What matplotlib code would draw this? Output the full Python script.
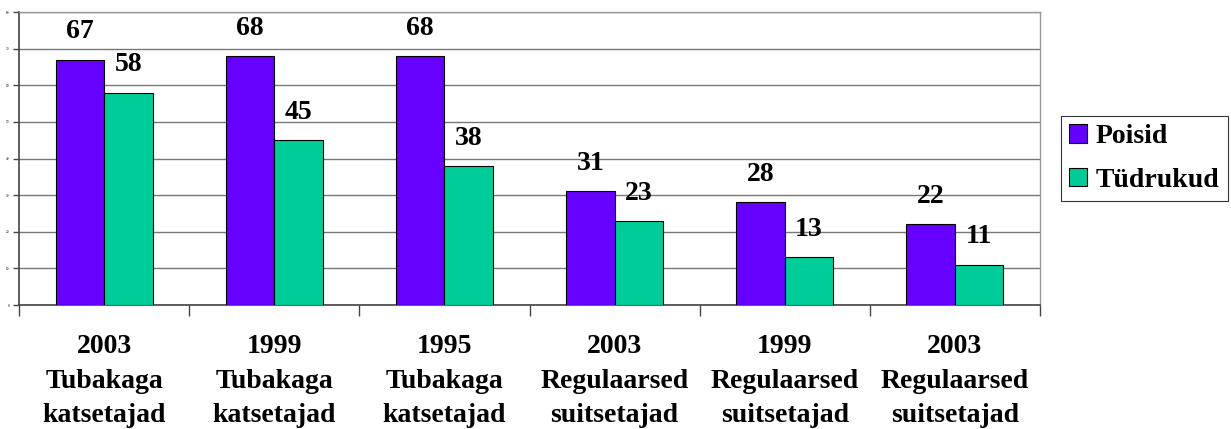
import numpy as np
import matplotlib
matplotlib.use("Agg")
import matplotlib.pyplot as plt

# andmed
kategooriad = ["2003\nTubakaga\nkatsetajad", "1999\nTubakaga\nkatsetajad",
               "1995\nTubakaga\nkatsetajad", "2003\nRegulaarsed\nsuitsetajad",
               "1999\nRegulaarsed\nsuitsetajad", "2003\nRegulaarsed\nsuitsetajad"]
poisid = [67, 68, 68, 31, 28, 22]
tudrukud = [58, 45, 38, 23, 13, 11]
y_ticks = [0, 10, 20, 30, 40, 50, 60, 70, 80]

plt.rcParams['font.family'] = ['Liberation Serif', 'DejaVu Serif']

fig = plt.figure(figsize=(12.31, 4.29), dpi=100)
ax = fig.add_axes([0.0154, 0.289, 0.8295, 0.683])

x = np.arange(len(kategooriad))
w = 0.285
b1 = ax.bar(x - w / 2, poisid, w, color="#6600FF", edgecolor="black", linewidth=0.8, label="Poisid", zorder=3)
b2 = ax.bar(x + w / 2, tudrukud, w, color="#00CC99", edgecolor="black", linewidth=0.8, label="Tüdrukud", zorder=3)

for bars, vals in [(b1, poisid), (b2, tudrukud)]:
    for r, v in zip(bars, vals):
        ax.annotate(str(v), (r.get_x() + r.get_width() / 2, v), xytext=(0, 20),
                    textcoords="offset points", ha="center", va="center",
                    fontsize=20, fontweight="bold")

ax.set_xlim(-0.5, len(kategooriad) - 0.5)
ax.set_ylim(0, 80)
ax.set_yticks(y_ticks)
ax.set_yticklabels([str(t) for t in y_ticks], fontsize=2.5)
ax.yaxis.grid(True, color="#777777", linewidth=1, zorder=0)
ax.tick_params(axis="y", direction="out", length=4, width=1, color="#444444", pad=3)

# kategooriate piirid
ax.set_xticks(np.arange(-0.5, len(kategooriad)), minor=False)
ax.set_xticklabels([])
ax.tick_params(axis="x", direction="out", length=8, width=1, color="#444444")
for i, t in enumerate(kategooriad):
    ax.text(i, -0.10, t, transform=ax.get_xaxis_transform(), ha="center", va="top",
            fontsize=20, fontweight="bold", linespacing=1.5)

for s in ["left", "bottom"]:
    ax.spines[s].set_color("#444444")
    ax.spines[s].set_linewidth(1.2)
for s in ["top", "right"]:
    ax.spines[s].set_color("#999999")
    ax.spines[s].set_linewidth(1)

leg = ax.legend(loc="center left", bbox_to_anchor=(1.0206, 0.5), frameon=True, fancybox=False,
                prop={"size": 20, "weight": "bold"}, handlelength=0.65, handleheight=0.65,
                handletextpad=0.3, labelspacing=0.65, borderpad=0.3, borderaxespad=0)
leg.get_frame().set_edgecolor("black")
leg.get_frame().set_linewidth(0.8)

fig.savefig("out.png", dpi=100)
